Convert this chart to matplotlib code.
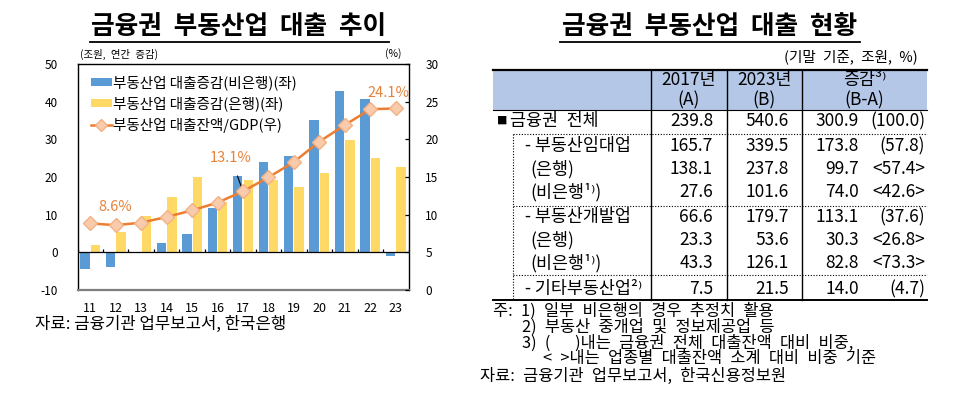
import matplotlib
matplotlib.use("Agg")
import matplotlib.pyplot as plt
from matplotlib.lines import Line2D
from matplotlib.patches import Rectangle, Patch
import numpy as np

plt.rcParams['font.family'] = ['Noto Sans CJK KR', 'DejaVu Sans']
plt.rcParams['axes.unicode_minus'] = False

# ---------------- data: left chart ----------------
years = ["11", "12", "13", "14", "15", "16", "17", "18", "19", "20", "21", "22", "23"]
nonbank_change = [-4.5, -3.8, -0.3, 2.6, 5.0, 11.9, 20.2, 23.9, 25.6, 35.1, 42.7, 40.7, -1.0]
bank_change = [2.0, 5.3, 9.7, 14.8, 20.1, 13.3, 19.2, 19.2, 17.4, 21.1, 29.9, 25.0, 22.6]
loan_gdp_ratio = [8.85, 8.6, 8.94, 9.69, 10.57, 11.6, 13.1, 14.95, 17.0, 19.7, 21.9, 24.0, 24.1]
left_ticks = [-10, 0, 10, 20, 30, 40, 50]
right_ticks = [0, 5, 10, 15, 20, 25, 30]
legend_labels = ["부동산업 대출증감(비은행)(좌)", "부동산업 대출증감(은행)(좌)", "부동산업 대출잔액/GDP(우)"]
callouts = {1: "8.6%", 6: "13.1%", 12: "24.1%"}

# ---------------- data: right table ----------------
col_headers = [("2017년", "(A)"), ("2023년", "(B)"), ("증감³⁾", "(B-A)")]
row_labels = ["■ 금융권 전체", "- 부동산임대업", "(은행)", "(비은행¹⁾)",
              "- 부동산개발업", "(은행)", "(비은행¹⁾)", "- 기타부동산업²⁾"]
val_2017 = ["239.8", "165.7", "138.1", "27.6", "66.6", "23.3", "43.3", "7.5"]
val_2023 = ["540.6", "339.5", "237.8", "101.6", "179.7", "53.6", "126.1", "21.5"]
val_diff = ["300.9", "173.8", "99.7", "74.0", "113.1", "30.3", "82.8", "14.0"]
val_share = ["(100.0)", "(57.8)", "<57.4>", "<42.6>", "(37.6)", "<26.8>", "<73.3>", "(4.7)"]
notes = ["주: 1) 일부 비은행의 경우 추정치 활용",
         "2) 부동산 중개업 및 정보제공업 등",
         "3) (   )내는 금융권 전체 대출잔액 대비 비중,",
         "< >내는 업종별 대출잔액 소계 대비 비중 기준",
         "자료: 금융기관 업무보고서, 한국신용정보원"]

W, H = 959, 397
fig = plt.figure(figsize=(W / 100, H / 100), dpi=100)
fig.patch.set_facecolor("white")
EN = "\u2002"


def fx(x):
    return x / W


def fy(y):
    return 1 - y / H


def wide(s):
    return s.replace(" ", EN)


def hline(x0, x1, y, **kw):
    fig.add_artist(Line2D([fx(x0), fx(x1)], [fy(y), fy(y)], transform=fig.transFigure, **kw))


def vline(x, y0, y1, **kw):
    fig.add_artist(Line2D([fx(x), fx(x)], [fy(y0), fy(y1)], transform=fig.transFigure, **kw))


# ---------------- left chart ----------------
BLUE = "#5B9BD5"
YELLOW = "#FFD966"
ORANGE = "#ED7D31"
LABEL_OR = "#E8823A"

ax_l, ax_r, ax_t, ax_b = 77.5, 408.5, 64, 290
ax = fig.add_axes([fx(ax_l), fy(ax_b), (ax_r - ax_l) / W, (ax_b - ax_t) / H])
x = np.arange(len(years))
bw = 0.37
ax.bar(x - 0.205, nonbank_change, bw, color=BLUE, zorder=2)
ax.bar(x + 0.205, bank_change, bw, color=YELLOW, zorder=2)
ax.set_xlim(-0.5, len(years) - 0.5)
ax.set_ylim(left_ticks[0], left_ticks[-1])
ax.set_yticks(left_ticks)
ax.set_yticklabels([str(v) for v in left_ticks])
ax.set_xticks(x)
ax.set_xticklabels(years)
ax.tick_params(axis="y", length=0, pad=14, labelsize=8.5)
ax.tick_params(axis="x", length=0, pad=9, labelsize=9)
ax.axhline(0, color="black", lw=0.9, zorder=3)
ax.vlines(np.arange(len(years) + 1) - 0.5, 0, 0.8, color="black", lw=0.9, zorder=3)
for s in ["left", "top", "right"]:
    ax.spines[s].set_color("black")
    ax.spines[s].set_linewidth(1.0)
ax.spines["bottom"].set_color("#7f7f7f")
ax.spines["bottom"].set_linewidth(1.6)

ax2 = ax.twinx()
ax2.plot(x, loan_gdp_ratio, color=ORANGE, lw=1.8, marker="D", markersize=7,
         markerfacecolor="#F8CBAD", markeredgecolor="#F4B183", markeredgewidth=1.0, zorder=4)
ax2.set_ylim(right_ticks[0], right_ticks[-1])
ax2.set_yticks(right_ticks)
ax2.set_yticklabels([str(v) for v in right_ticks])
ax2.tick_params(axis="y", direction="in", length=3, pad=12, labelsize=8.5, width=0.9)
for s in ax2.spines.values():
    s.set_visible(False)

offsets = {1: (0, 18), 6: (-12, 33), 12: (-7, 15)}
for i, txt in callouts.items():
    dx, dy = offsets[i]
    if i == 6:
        ax2.annotate(txt, xy=(x[i], loan_gdp_ratio[i]), xytext=(dx, dy), textcoords="offset pixels",
                     ha="center", va="center", fontsize=10.5, color=LABEL_OR,
                     arrowprops=dict(arrowstyle="-", color="black", lw=0.8, shrinkA=6, shrinkB=2))
    else:
        ax2.annotate(txt, xy=(x[i], loan_gdp_ratio[i]), xytext=(dx, dy), textcoords="offset pixels",
                     ha="center", va="center", fontsize=10.5, color=LABEL_OR)

handles = [Patch(facecolor=BLUE), Patch(facecolor=YELLOW),
           Line2D([], [], color=ORANGE, lw=1.8, marker="D", markersize=6,
                  markerfacecolor="#F8CBAD", markeredgecolor="#F4B183")]
ax2.legend(handles, legend_labels, loc="upper left", bbox_to_anchor=(0.015, 0.99), frameon=False,
           fontsize=10.5, handlelength=1.4, handleheight=0.45, handletextpad=0.1,
           labelspacing=0.45, borderaxespad=0.2)

fig.text(fx(80), fy(54), wide("(조원, 연간 증감)"), fontsize=7.5, ha="left", va="center")
fig.text(fx(401), fy(54), "(%)", fontsize=7.5, ha="right", va="center")

fig.text(fx(239), fy(27), "금융권  부동산업  대출  추이", fontsize=18.5, fontweight="bold",
         ha="center", va="center")
hline(90, 389, 41.5, color="black", lw=1.3)
fig.text(fx(35), fy(324), "자료: 금융기관 업무보고서, 한국은행", fontsize=12, ha="left", va="center")

# ---------------- right table ----------------
fig.text(fx(710), fy(27), "금융권  부동산업  대출  현황", fontsize=18.5, fontweight="bold",
         ha="center", va="center")
hline(560, 860, 41.5, color="black", lw=1.3)
fig.text(fx(918), fy(57), wide("(기말 기준, 조원, %)"), fontsize=10.5, ha="right", va="center")

tl, tr, tt, hb, tb = 493, 927, 70, 110, 299.5
fig.add_artist(Rectangle((fx(tl), fy(hb)), (tr - tl) / W, (hb - tt) / H,
                         transform=fig.transFigure, facecolor="#B4C7E7", edgecolor="none"))
hline(tl, tr, tt, color="black", lw=1.6)
hline(tl, tr, hb, color="black", lw=0.8)
hline(tl, tr, tb, color="black", lw=1.4)
col_lines = [650.7, 726.7, 801.7]
for cx in col_lines:
    vline(cx, tt, tb, color="black", lw=1.0)
for yy in [133.5, 206, 275]:
    hline(513, tr, yy, color="black", lw=0.8, linestyle=(0, (1, 1.5)))
vline(513, 133.5, tb, color="black", lw=0.8, linestyle=(0, (1, 1.5)))

hdr_cx = [(col_lines[0] + col_lines[1]) / 2, (col_lines[1] + col_lines[2]) / 2, (col_lines[2] + tr) / 2]
for cxx, (l1, l2) in zip(hdr_cx, col_headers):
    fig.text(fx(cxx), fy(80), l1, fontsize=12.5, ha="center", va="center")
    fig.text(fx(cxx), fy(100), l2, fontsize=12.5, ha="center", va="center")

row_y = [121, 146, 169, 192, 217, 240, 263, 289]
for i, (lab, y) in enumerate(zip(row_labels, row_y)):
    if lab.startswith("■"):
        fig.text(fx(497), fy(y), "■", fontsize=7.5, ha="left", va="center")
        fig.text(fx(510), fy(y), wide(lab[2:]), fontsize=12.5, ha="left", va="center")
    else:
        lx = 525 if lab.startswith("-") else 530
        fig.text(fx(lx), fy(y), lab, fontsize=12.5, ha="left", va="center")
    fig.text(fx(713), fy(y), val_2017[i], fontsize=12.5, ha="right", va="center")
    fig.text(fx(789), fy(y), val_2023[i], fontsize=12.5, ha="right", va="center")
    fig.text(fx(859), fy(y), val_diff[i], fontsize=12.5, ha="right", va="center")
    fig.text(fx(925), fy(y), val_share[i], fontsize=12.5, ha="right", va="center")

note_pos = [(493, 311), (521.5, 327), (521.5, 343), (543, 358.5), (480, 376)]
for txt, (nx, ny) in zip(notes, note_pos):
    fig.text(fx(nx), fy(ny), wide(txt), fontsize=11.8, ha="left", va="center")

fig.savefig("out.png", dpi=100)
